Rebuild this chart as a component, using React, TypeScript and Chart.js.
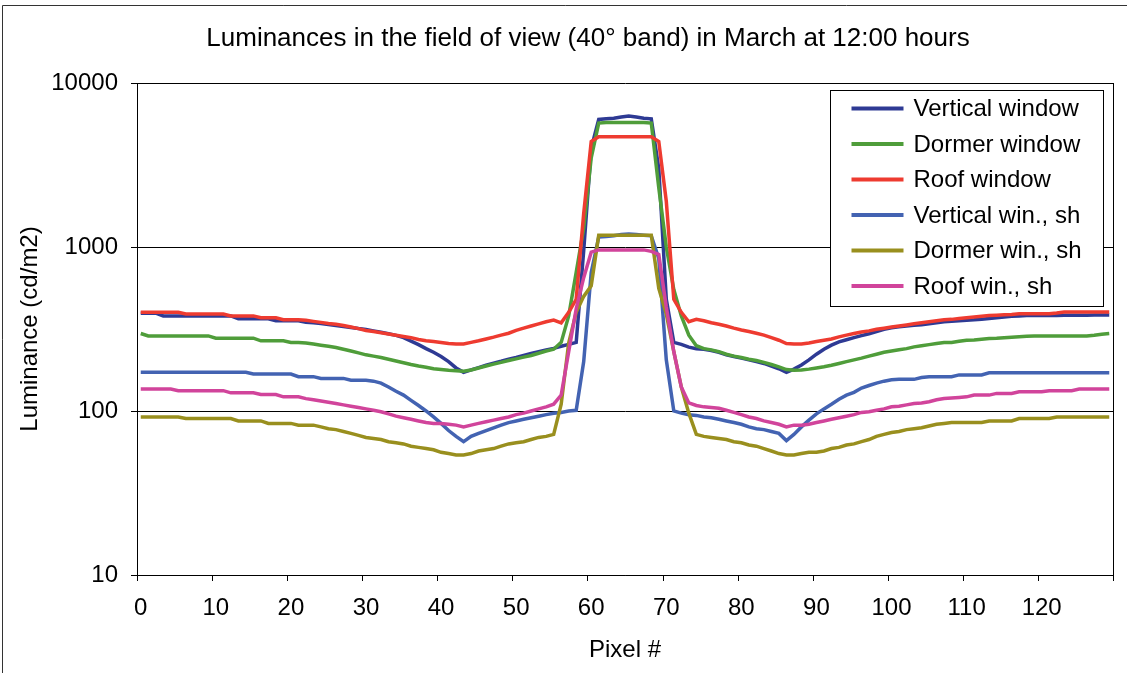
import React, { useEffect, useRef } from "react";
import { Chart, registerables } from "chart.js";

Chart.register(...registerables);

const FONT = "'Liberation Sans', Arial, sans-serif";

const titleText = "Luminances in the field of view (40\u00b0 band) in March at 12:00 hours";
const xAxisTitle = "Pixel #";
const yAxisTitle = "Luminance (cd/m2)";

const pixelIndex: number[] = Array.from({ length: 130 }, (_, i) => i);
const xTickValues = [0, 10, 20, 30, 40, 50, 60, 70, 80, 90, 100, 110, 120];
const yTickValues = [10, 100, 1000, 10000];

const seriesNames = [
  "Vertical window",
  "Dormer window",
  "Roof window",
  "Vertical win., sh",
  "Dormer win., sh",
  "Roof win., sh",
];
const seriesColors = ["#2E3A94", "#4F9D3A", "#EE3B30", "#4363B2", "#998F1E", "#D1449B"];

const verticalWindow = [
  395, 395, 395, 380, 380, 380, 380, 380, 380, 380,
  380, 380, 380, 365, 365, 365, 365, 365, 355, 355,
  355, 355, 348, 345, 342, 337, 332, 328, 323, 318,
  314, 308, 302, 296, 289, 280, 267, 254, 240, 228,
  215, 200, 183, 172, 178, 184, 190, 196, 201, 207,
  212, 218, 224, 230, 236, 241, 248, 255, 262, 950,
  4000, 6000, 6050, 6100, 6200, 6300, 6200, 6100, 6050, 3000,
  480, 262, 255, 245, 240, 238, 234, 228, 220, 215,
  210, 205, 200, 195, 188, 181, 172, 180, 191, 205,
  222, 238, 252, 264, 272, 280, 288, 296, 305, 315,
  322, 326, 330, 333, 336, 340, 345, 350, 352, 355,
  358, 360, 363, 366, 370, 374, 378, 380, 382, 382,
  382, 382, 382, 383, 383, 384, 384, 385, 385, 385,
];

const dormerWindow = [
  297, 287, 287, 287, 287, 287, 287, 287, 287, 287,
  278, 278, 278, 278, 278, 278, 268, 268, 268, 268,
  262, 262, 260, 256, 252, 248, 244, 238, 232, 226,
  220, 216, 212, 207, 202, 197, 192, 188, 185, 181,
  179, 177, 176, 175, 178, 183, 188, 193, 198, 203,
  208, 213, 218, 225, 232, 238, 262, 380, 700, 1300,
  3500, 5700, 5750, 5750, 5750, 5750, 5750, 5750, 5700, 2300,
  1000, 550, 380, 290, 250, 240, 236, 230, 222, 216,
  212, 207, 203, 198, 192, 186, 179, 177, 178, 180,
  183, 186, 190, 195, 200, 205, 210, 216, 222, 228,
  232, 236, 240, 246, 250, 254, 258, 262, 262, 266,
  270, 271, 274, 277, 278, 280, 282, 284, 286, 287,
  287, 287, 287, 287, 287, 287, 287, 290, 294, 297,
];

const roofWindow = [
  400, 400, 400, 400, 400, 400, 390, 390, 390, 390,
  390, 390, 380, 380, 380, 380, 370, 370, 370, 360,
  360, 360, 357, 352, 347, 342, 338, 332, 325, 318,
  310, 305, 300, 295, 290, 285, 280, 273, 268, 265,
  262, 258, 256, 256, 262, 268, 275, 282, 290, 298,
  310, 320, 330, 340, 350, 358, 345, 400, 480, 1600,
  4400, 4700, 4700, 4700, 4700, 4700, 4700, 4700, 4700, 4400,
  1900, 480, 400, 350, 362, 355, 345, 338, 330, 320,
  312, 305, 298, 290, 280, 270, 258, 256, 256, 260,
  265, 270, 275, 283, 290, 297, 303, 308, 315, 320,
  325, 330, 335, 340, 345, 350, 355, 360, 362, 366,
  370, 374, 378, 382, 384, 386, 388, 392, 392, 392,
  392, 392, 396, 402, 402, 402, 402, 402, 402, 402,
];

const verticalWinSh = [
  172, 172, 172, 172, 172, 172, 172, 172, 172, 172,
  172, 172, 172, 172, 172, 168, 168, 168, 168, 168,
  168, 162, 162, 162, 158, 158, 158, 158, 154, 154,
  154, 152, 148, 140, 132, 125, 116, 108, 100, 92,
  84, 76, 70, 65, 70, 73, 76, 79, 82, 85,
  87, 89, 91, 93, 95, 97, 98, 100, 101, 200,
  700, 1150, 1160, 1170, 1190, 1200, 1190, 1180, 1170, 850,
  205, 100, 97, 95, 94, 92, 91, 89, 87, 85,
  83, 80, 78, 77, 75, 73, 66, 72, 80, 88,
  96, 103, 110, 118, 125, 130, 138, 143, 148, 152,
  155, 156, 156, 156, 160, 162, 162, 162, 162, 166,
  166, 166, 166, 171, 171, 171, 171, 171, 171, 171,
  171, 171, 171, 171, 171, 171, 171, 171, 171, 171,
];

const dormerWinSh = [
  92, 92, 92, 92, 92, 92, 90, 90, 90, 90,
  90, 90, 90, 87, 87, 87, 87, 84, 84, 84,
  84, 82, 82, 82, 80, 78, 77, 75, 73, 71,
  69, 68, 67, 65, 64, 63, 61, 60, 59, 58,
  56, 55, 54, 54, 55, 57, 58, 59, 61, 63,
  64, 65, 67, 69, 70, 72, 110, 260, 400, 500,
  580, 1180, 1180, 1180, 1180, 1180, 1180, 1180, 1180, 560,
  390, 230, 140, 97, 72, 70, 69, 68, 67, 65,
  64, 62, 61, 59, 57, 55, 54, 54, 55, 56,
  56, 57, 59, 60, 62, 63, 65, 67, 70, 72,
  74, 75, 77, 78, 79, 81, 83, 84, 85, 85,
  85, 85, 85, 87, 87, 87, 87, 90, 90, 90,
  90, 90, 92, 92, 92, 92, 92, 92, 92, 92,
];

const roofWinSh = [
  136, 136, 136, 136, 136, 133, 133, 133, 133, 133,
  133, 133, 129, 129, 129, 129, 126, 126, 126, 122,
  122, 122, 119, 117, 115, 113, 111, 109, 107, 105,
  103, 101, 99, 96, 93, 91, 89, 87, 85, 84,
  84, 83, 82, 80, 82, 84, 86, 88, 90, 92,
  95, 97, 100, 103, 106, 110, 125, 230, 420, 650,
  930, 960, 960, 960, 960, 960, 960, 960, 940, 900,
  430, 230, 140, 112, 108, 106, 105, 104, 101, 98,
  95, 92, 90, 87, 85, 83, 80, 82, 82, 83,
  85, 87, 89, 91, 93, 95, 98, 99, 101, 103,
  106, 107, 109, 111, 112, 114, 117, 119, 120, 121,
  122, 125, 125, 125, 128, 128, 128, 131, 131, 131,
  131, 133, 133, 133, 133, 136, 136, 136, 136, 136,
];

const allSeries = [verticalWindow, dormerWindow, roofWindow, verticalWinSh, dormerWinSh, roofWinSh];

const framePlugin = {
  id: "framePlugin",
  afterDatasetsDraw(chart: any) {
    const ctx = chart.ctx as CanvasRenderingContext2D;
    const ca = chart.chartArea;
    const xs = chart.scales.x;
    ctx.save();

    // chart title
    ctx.fillStyle = "#000";
    ctx.font = `26px ${FONT}`;
    ctx.textAlign = "center";
    ctx.textBaseline = "middle";
    ctx.fillText(titleText, 588, 39);

    ctx.strokeStyle = "#000";
    ctx.lineWidth = 1;
    // right border of the plot area
    ctx.beginPath();
    ctx.moveTo(Math.round(ca.right) + 0.5, ca.top);
    ctx.lineTo(Math.round(ca.right) + 0.5, ca.bottom);
    ctx.stroke();
    // x tick marks between categories
    for (let k = 0; k <= 13; k++) {
      const px = Math.round(xs.getPixelForValue(k * 10 - 0.5)) + 0.5;
      ctx.beginPath();
      ctx.moveTo(px, ca.bottom);
      ctx.lineTo(px, ca.bottom + 6);
      ctx.stroke();
    }
    // outer chart frame (top and left edges visible)
    ctx.strokeStyle = "#333";
    ctx.beginPath();
    ctx.moveTo(2.5, chart.height + 2);
    ctx.lineTo(2.5, 5.5);
    ctx.lineTo(chart.width + 2, 5.5);
    ctx.stroke();

    // legend box
    const bx = Math.round(ca.right) - 283 + 0.5;
    const by = Math.round(ca.top) + 7 + 0.5;
    const bw = 273;
    const bh = 216;
    ctx.fillStyle = "#fff";
    ctx.fillRect(bx, by, bw, bh);
    ctx.strokeStyle = "#000";
    ctx.lineWidth = 1;
    ctx.strokeRect(bx, by, bw, bh);
    ctx.font = `24px ${FONT}`;
    ctx.textBaseline = "middle";
    ctx.textAlign = "left";
    const ds = chart.data.datasets;
    for (let i = 0; i < ds.length; i++) {
      const cy = by + 18 + i * 35.5;
      ctx.strokeStyle = ds[i].borderColor;
      ctx.lineWidth = 4;
      ctx.beginPath();
      ctx.moveTo(bx + 21, cy);
      ctx.lineTo(bx + 73, cy);
      ctx.stroke();
      ctx.fillStyle = "#000";
      ctx.fillText(ds[i].label, bx + 83, cy + 1);
    }
    ctx.restore();
  },
};

export default function App() {
  const canvasRef = useRef<HTMLCanvasElement | null>(null);

  useEffect(() => {
    document.body.style.margin = "0";
    const canvas = canvasRef.current;
    if (!canvas) return;
    const datasets = allSeries.map((values, i) => ({
      label: seriesNames[i],
      data: values.map((v, j) => ({ x: pixelIndex[j], y: v })),
      borderColor: seriesColors[i],
      backgroundColor: seriesColors[i],
      borderWidth: 3.5,
      pointRadius: 0,
      tension: 0,
      fill: false,
      order: allSeries.length - i,
    }));
    const chart = new Chart(canvas, {
      type: "line",
      data: { datasets },
      plugins: [framePlugin],
      options: {
        animation: false,
        responsive: false,
        maintainAspectRatio: false,
        layout: { padding: { left: 0, right: 14, top: 83, bottom: 0 } },
        plugins: {
          legend: { display: false },
          tooltip: { enabled: false },
          title: { display: false },
        },
        scales: {
          x: {
            type: "linear",
            min: -0.5,
            max: 129.5,
            afterBuildTicks: (scale: any) => {
              scale.ticks = xTickValues.map((v) => ({ value: v }));
            },
            afterFit: (scale: any) => {
              scale.height = 98;
            },
            ticks: {
              color: "#000",
              font: { family: FONT, size: 24 },
              padding: 19,
              maxRotation: 0,
              autoSkip: false,
              callback: (v: any) => String(v),
            },
            grid: { drawOnChartArea: false, drawTicks: false },
            border: { display: true, color: "#000", width: 1 },
            title: {
              display: true,
              text: xAxisTitle,
              color: "#000",
              font: { family: FONT, size: 24 },
              padding: { top: 0, bottom: 8 },
            },
          },
          y: {
            type: "logarithmic",
            min: 10,
            max: 10000,
            afterBuildTicks: (scale: any) => {
              scale.ticks = yTickValues.map((v) => ({ value: v, major: true }));
            },
            afterFit: (scale: any) => {
              scale.width = 137;
            },
            ticks: {
              color: "#000",
              font: { family: FONT, size: 24 },
              padding: 13,
              autoSkip: false,
              callback: (v: any) => String(v),
            },
            grid: { color: "#000", lineWidth: 1, drawTicks: true, tickLength: 6 },
            border: { display: true, color: "#000", width: 1 },
            title: {
              display: true,
              text: yAxisTitle,
              color: "#000",
              font: { family: FONT, size: 24 },
              padding: { top: 16, bottom: 0 },
            },
          },
        },
      } as any,
    });
    return () => chart.destroy();
  }, []);

  return (
    <div style={{ width: 1127, height: 673, background: "#fff" }}>
      <canvas ref={canvasRef} width={1127} height={673} style={{ display: "block" }} />
    </div>
  );
}
